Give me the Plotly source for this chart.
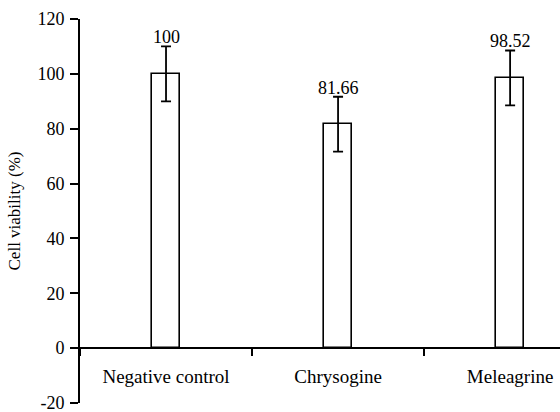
import plotly.graph_objects as go

categories = ["Negative control", "Chrysogine", "Meleagrine"]
viability = [100, 81.66, 98.52]
errors = [10, 10, 10]
value_labels = ["100", "81.66", "98.52"]
y_ticks = [-20, 0, 20, 40, 60, 80, 100, 120]
y_tick_labels = ["-20", "0", "20", "40", "60", "80", "100", "120"]

FONT = "Liberation Serif, Times New Roman, serif"

fig = go.Figure()
fig.add_trace(go.Bar(
    x=categories, y=viability, width=0.163,
    marker=dict(color="white", line=dict(color="black", width=1.6)),
    error_y=dict(type="data", array=errors, visible=True, color="black", thickness=1.8, width=5),
    showlegend=False,
))
for c, v, e, t in zip(categories, viability, errors, value_labels):
    fig.add_annotation(x=c, y=v + e, text=t, showarrow=False, yanchor="bottom", yshift=-3,
                       font=dict(family=FONT, size=18, color="black"))

fig.update_layout(
    width=560, height=412,
    margin=dict(l=80, r=0, t=19, b=9),
    plot_bgcolor="white", paper_bgcolor="white",
    font=dict(family=FONT, size=18, color="black"),
    xaxis=dict(type="category", range=[-0.5, 2.29], showline=True, linecolor="black", linewidth=2,
               ticks="outside", tickson="boundaries", ticklen=7, tickwidth=1.5, tickcolor="black",
               showgrid=False, anchor="free", position=20 / 140, ticklabelstandoff=11,
               tickfont=dict(family=FONT, size=19)),
    yaxis=dict(range=[-20, 120], tickvals=y_ticks, ticktext=y_tick_labels, showline=True,
               linecolor="black", linewidth=2,
               ticks="outside", ticklen=8, tickwidth=2, tickcolor="black", showgrid=False,
               zeroline=False, tickfont=dict(family=FONT, size=18), ticklabelstandoff=2,
               ticklabeloverflow="allow",
               title=dict(text="Cell viability (%)", font=dict(family=FONT, size=17), standoff=12)),
    bargap=0,
)
fig.write_html("out.html", config={"displayModeBar": False},
               post_script="document.body.style.margin='0';")
